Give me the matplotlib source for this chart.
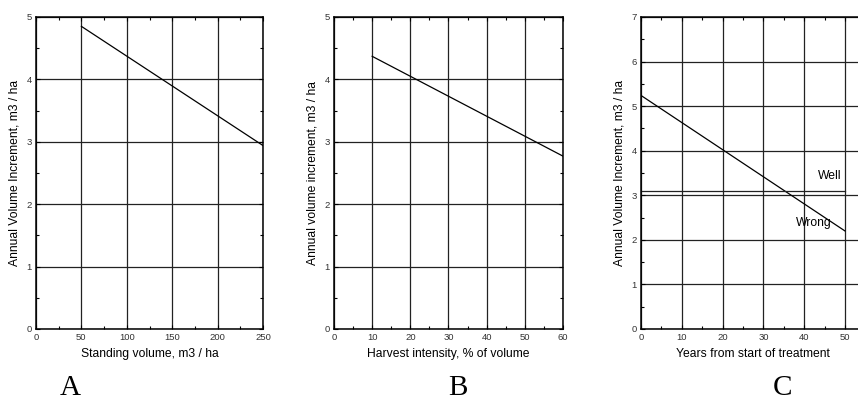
import numpy as np
import matplotlib.pyplot as plt
from matplotlib.ticker import MultipleLocator

# panel A
stand_vol = [50, 250]
incr_a = [4.85, 2.94]
# panel B
harvest = [10, 60]
incr_b = [4.37, 2.77]
# panel C
years = [0, 50]
incr_c = [5.24, 2.2]
well_x = [0, 50]
well_y = [3.1, 3.1]

W, H = 858, 401
fig = plt.figure(figsize=(W / 100, H / 100), dpi=100)
plt.rcParams['font.family'] = ['Liberation Sans', 'DejaVu Sans']


def make_ax(left, right, top=17, bottom=329):
    return fig.add_axes([left / W, 1 - bottom / H, (right - left) / W, (bottom - top) / H])


def style(ax, xmaj, xmin, ymaj, ymin):
    ax.xaxis.set_major_locator(MultipleLocator(xmaj))
    ax.xaxis.set_minor_locator(MultipleLocator(xmin))
    ax.yaxis.set_major_locator(MultipleLocator(ymaj))
    ax.yaxis.set_minor_locator(MultipleLocator(ymin))
    ax.tick_params(which='both', direction='in', top=True, right=True,
                   labelsize=6.8, pad=3, width=0.8, labelcolor='#333333')
    ax.tick_params(which='major', length=3)
    ax.tick_params(which='minor', length=2)
    ax.grid(True, which='major', color='#222222', linewidth=0.9)
    for s in ax.spines.values():
        s.set_linewidth(1.1)


axA = make_ax(36, 263)
axA.plot(stand_vol, incr_a, color='black', linewidth=0.9)
axA.set_xlim(0, 250)
axA.set_ylim(0, 5)
style(axA, 50, 25, 1, 0.5)
axA.set_xlabel('Standing volume, m3 / ha', fontsize=8.7, labelpad=4.5)
axA.set_ylabel('Annual Volume Increment, m3 / ha', fontsize=8.7, labelpad=4)

axB = make_ax(334, 563)
axB.plot(harvest, incr_b, color='black', linewidth=0.9)
axB.set_xlim(0, 60)
axB.set_ylim(0, 5)
style(axB, 10, 5, 1, 0.5)
axB.set_xlabel('Harvest intensity, % of volume', fontsize=8.7, labelpad=4.5)
axB.set_ylabel('Annual volume increment, m3 / ha', fontsize=8.7, labelpad=4)

axC = make_ax(641, 858)
axC.plot(years, incr_c, color='black', linewidth=0.9)
axC.plot(well_x, well_y, color='#222222', linewidth=0.9)
axC.set_xlim(0, 53.2)
axC.set_ylim(0, 7)
style(axC, 10, 5, 1, 0.5)
axC.spines['right'].set_visible(False)
axC.tick_params(which='both', right=False)
axC.set_xticks([0, 10, 20, 30, 40, 50])
axC.set_xlabel('Years from start of treatment', fontsize=8.7, labelpad=6)
axC.set_ylabel('Annual Volume Increment, m3 / ha', fontsize=8.7, labelpad=4)
axC.xaxis.set_label_coords((753 - 641) / (858 - 641), -0.06)
axC.text(46.3, 3.44, 'Well', fontsize=8.7, ha='center', va='center')
axC.text(42.4, 2.38, 'Wrong', fontsize=8.7, ha='center', va='center')

for x, lab in [(70, 'A'), (458, 'B'), (783, 'C')]:
    fig.text(x / W, 1 - 395 / H, lab, fontsize=21, family='Liberation Serif',
             ha='center', va='baseline')

fig.savefig('out.png', dpi=100)
